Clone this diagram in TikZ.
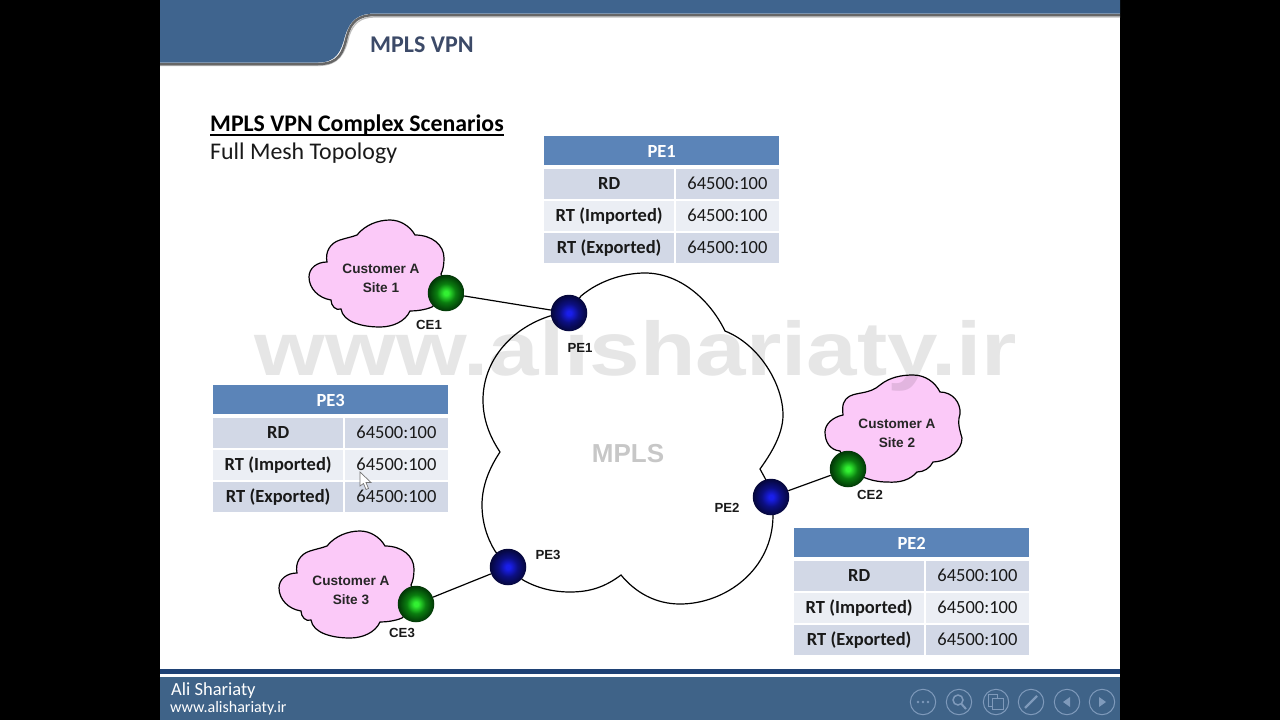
\documentclass[tikz,border=0pt]{standalone}
\usepackage{fontspec}
\setmainfont{Carlito}
\newfontfamily\arialf{Liberation Sans}
\usetikzlibrary{calc}
\definecolor{hdrblue}{HTML}{3F648E}
\definecolor{footblue}{HTML}{3F6388}
\definecolor{navy}{HTML}{1F4275}
\definecolor{tblhead}{HTML}{5B84B8}
\definecolor{tbla}{HTML}{D2D8E6}
\definecolor{tblb}{HTML}{EBEEF4}
\definecolor{pinkc}{HTML}{FBC9F8}
\definecolor{iconc}{HTML}{7F9ABB}
\definecolor{titlec}{HTML}{3C4A68}
\definecolor{wmark}{HTML}{E6E6E6}
\definecolor{bb1}{RGB}{25,30,235}
\definecolor{bb2}{RGB}{12,15,130}
\definecolor{bb3}{RGB}{6,8,70}
\definecolor{gb1}{RGB}{50,240,50}
\definecolor{gb2}{RGB}{10,125,15}
\definecolor{gb3}{RGB}{3,65,8}
\pgfdeclareradialshading{blueball}{\pgfpointorigin}{color(0bp)=(bb1); color(3bp)=(bb1); color(13bp)=(bb2); color(23bp)=(bb3); color(30bp)=(black!60!bb3); color(36bp)=(black); color(50bp)=(black)}
\pgfdeclareradialshading{greenball}{\pgfpointorigin}{color(0bp)=(gb1); color(3bp)=(gb1); color(13bp)=(gb2); color(23bp)=(gb3); color(30bp)=(black!60!gb3); color(36bp)=(black); color(50bp)=(black)}
\tikzset{
  x=1pt,y=-1pt,
  pe/.style={circle,minimum size=36.5pt,inner sep=0pt,shading=blueball},
  ce/.style={circle,minimum size=36.5pt,inner sep=0pt,shading=greenball},
  devlabel/.style={font=\arialf\bfseries\fontsize{13.2}{15}\selectfont,text=black!90,inner sep=0pt},
  cloudlabel/.style={font=\arialf\bfseries\fontsize{13.6}{19}\selectfont,text=black!85,align=center,inner sep=0pt},
  cell/.style={anchor=north west,inner sep=0pt,minimum height=30pt,text=black!90,text height=14pt,text depth=3pt,font=\fontsize{18.5}{20}\selectfont},
  wire/.style={draw=black,line width=1.2pt},
  outline/.style={draw=black,line width=1.2pt},
  icon/.style={draw=iconc,line width=1pt},
}
\newcommand{\petable}[4]{%
  \begin{scope}[shift={(#1,#2)}]
    \node[cell,fill=tblhead,minimum width=235pt,minimum height=29pt,text=white,text height=15pt,text depth=2pt] (#3h) at (0,0) {\bfseries #4};
    \node[cell,fill=tbla,minimum width=130pt] (#3a) at (0,33) {\bfseries RD};
    \node[cell,fill=tbla,minimum width=103.5pt] (#3av) at (131.5,33) {64500:100};
    \node[cell,fill=tblb,minimum width=130pt] (#3b) at (0,65) {\bfseries RT (Imported)};
    \node[cell,fill=tblb,minimum width=103.5pt] (#3bv) at (131.5,65) {64500:100};
    \node[cell,fill=tbla,minimum width=130pt] (#3c) at (0,97) {\bfseries RT (Exported)};
    \node[cell,fill=tbla,minimum width=103.5pt] (#3cv) at (131.5,97) {64500:100};
  \end{scope}}
\newcommand{\custcloud}{%
  (357,235) .. controls (365,225) and (378,220) .. (390,220)
  .. controls (400,220) and (410,226) .. (415,235)
  .. controls (432,235) and (444,245) .. (444,258)
  .. controls (444,265) and (443,270) .. (441,274)
  -- (446,293) -- (432,307)
  .. controls (425,310) and (416,311) .. (410,311)
  .. controls (405,322) and (392,327) .. (380,327)
  .. controls (362,327) and (343,322) .. (341,309)
  .. controls (336,311) and (331,306) .. (331,300)
  .. controls (318,298) and (309,288) .. (309,277)
  .. controls (309,268) and (317,262) .. (327,262)
  .. controls (325,252) and (330,243) .. (340,240)
  .. controls (346,238) and (352,237) .. (357,235) -- cycle}
\begin{document}
\begin{tikzpicture}
\useasboundingbox (0,0) rectangle (1280,720);
\fill[black] (0,0) rectangle (1280,720);
\fill[white] (160,0) rectangle (1120,720);
% slide chrome
\draw[black!25,line width=1.2pt] (160,65.5) -- (318,65.5) .. controls (340,65.5) and (345,52) .. (349,36) .. controls (353,24) and (360,17) .. (375,17) -- (1120,17);
\draw[black!60,line width=2.5pt] (160,64) -- (318,64) .. controls (340,64) and (343,52) .. (347,36) .. controls (351,22) and (358,15) .. (375,15) -- (1120,15);
\fill[hdrblue] (160,0) -- (1120,0) -- (1120,13.5) -- (375,13.5) .. controls (358,13.5) and (350,20) .. (345,36) .. controls (341,52) and (336,62.5) .. (318,62.5) -- (160,62.5) -- cycle;
\fill[navy] (160,669) rectangle (1120,674);
\fill[footblue] (160,677) rectangle (1120,720);
\node[anchor=west,inner sep=0pt,font=\bfseries\fontsize{24}{26}\selectfont,text=titlec] (maintitle) at (370,44.5) {MPLS VPN};
\node[anchor=west,inner sep=0pt,font=\bfseries\fontsize{23.8}{26}\selectfont,text=black] (subtitle) at (210,125.5) {MPLS VPN Complex Scenarios};
\draw[black,line width=1.5pt] (210,135) -- (504,135);
\node[anchor=west,inner sep=0pt,font=\fontsize{23.9}{26}\selectfont,text=black!90] (topo) at (210,153.5) {Full Mesh Topology};
\node[anchor=west,inner sep=0pt,font=\fontsize{18.5}{20}\selectfont,text=white] (author) at (171,691) {Ali Shariaty};
\node[anchor=west,inner sep=0pt,font=\fontsize{16}{18}\selectfont,text=white] (site) at (170,708) {www.alishariaty.ir};
% footer icons
\foreach \cx/\nm in {923/ia,959/ib,996/ic,1031/id,1067/ie,1102/if}{\draw[icon] (\cx,702) circle (12.7);}
\fill[iconc] (918,702) circle (1.3) (923,702) circle (1.3) (928,702) circle (1.3);
\draw[icon,line width=1.5pt] (958,700) circle (5);
\draw[icon,line width=2pt] (961.5,704) -- (966,709);
\draw[icon] (988,694) rectangle (997,706);
\draw[icon,fill=footblue] (992,698) rectangle (1003,709);
\draw[iconc,line width=2.2pt] (1025,708) -- (1037,696);
\fill[iconc] (1070,697) -- (1070,707) -- (1063,702) -- cycle;
\fill[iconc] (1099,697) -- (1099,707) -- (1106,702) -- cycle;
% tables
\petable{544}{136}{pea}{PE1}
\petable{213}{385}{pec}{PE3}
\petable{794}{528}{peb}{PE2}
% MPLS cloud
\draw[outline] (569,313) -- (581,296) .. controls (600,280) and (625,273) .. (645,273)
 .. controls (680,273) and (710,300) .. (725,331)
 .. controls (760,345) and (783,385) .. (783,415)
 .. controls (783,435) and (770,455) .. (760,469) -- (766,480) -- (771,497) -- (773,515)
 .. controls (773,570) and (725,604) .. (680,604)
 .. controls (655,604) and (635,592) .. (621,575)
 .. controls (605,587) and (590,592) .. (570,592)
 .. controls (553,592) and (537,588) .. (523,580) -- (508,567) -- (495,551)
 .. controls (487,538) and (482,522) .. (482,505)
 .. controls (482,485) and (490,467) .. (500,452)
 .. controls (490,437) and (483,420) .. (483,400)
 .. controls (483,360) and (512,328) .. (550,316) -- cycle;
\node[font=\arialf\bfseries\fontsize{26}{28}\selectfont,text=black!22,inner sep=0pt] (mpls) at (628,453.5) {MPLS};
% customer clouds
\draw[outline,fill=pinkc] \custcloud;
\draw[outline,fill=pinkc,shift={(-30,311)}] \custcloud;
\draw[outline,fill=pinkc] (880,385) .. controls (890,377) and (902,375) .. (913,375)
 .. controls (925,375) and (935,382) .. (940,392)
 .. controls (952,392) and (961,402) .. (960,414)
 .. controls (958,420) and (958,425) .. (962,438)
 .. controls (962,450) and (950,461) .. (933,462)
 .. controls (930,468) and (924,472) .. (917,472)
 .. controls (910,480) and (900,483) .. (887,482)
 .. controls (878,482) and (870,480) .. (863,477)
 -- (848,469) -- (840,451)
 .. controls (830,450) and (825,442) .. (825,432)
 .. controls (825,424) and (833,417) .. (843,415)
 .. controls (842,405) and (843,400) .. (850,396)
 .. controls (858,392) and (870,394) .. (880,385) -- cycle;
\node[cloudlabel] (site1) at (381,278) {Customer A\\Site 1};
\node[cloudlabel] (site3) at (351,590) {Customer A\\Site 3};
\node[cloudlabel] (site2) at (897,433) {Customer A\\Site 2};
% devices
\node[pe] (pe1) at (569,313) {};
\node[pe] (pe2) at (771,497) {};
\node[pe] (pe3) at (508,567) {};
\node[ce] (ce1) at (446,293) {};
\node[ce] (ce2) at (848,469) {};
\node[ce] (ce3) at (416,604) {};
\draw[wire] (ce1) -- (pe1);
\draw[wire] (ce2) -- (pe2);
\draw[wire] (ce3) -- (pe3);
\node[devlabel] (lce1) at (429,324.5) {CE1};
\node[devlabel] (lpe1) at (580,347.5) {PE1};
\node[devlabel] (lce2) at (870,494.5) {CE2};
\node[devlabel] (lpe2) at (727,507.5) {PE2};
\node[devlabel] (lce3) at (402,632.5) {CE3};
\node[devlabel] (lpe3) at (548,554.5) {PE3};
% mouse cursor
\draw[black!55,fill=white,line width=0.7pt] (360,472) -- (360,486) -- (363.5,483.5) -- (366,489.5) -- (368.5,488.5) -- (366,482.5) -- (371,482.5) -- cycle;
% watermark, laid over the drawing
\begin{scope}[blend mode=multiply]
\node[font=\arialf\bfseries\fontsize{76}{80}\selectfont,text=wmark,xscale=1.195,inner sep=0pt] (wm) at (636,356) {www.alishariaty.ir};
\end{scope}
\end{tikzpicture}
\end{document}
